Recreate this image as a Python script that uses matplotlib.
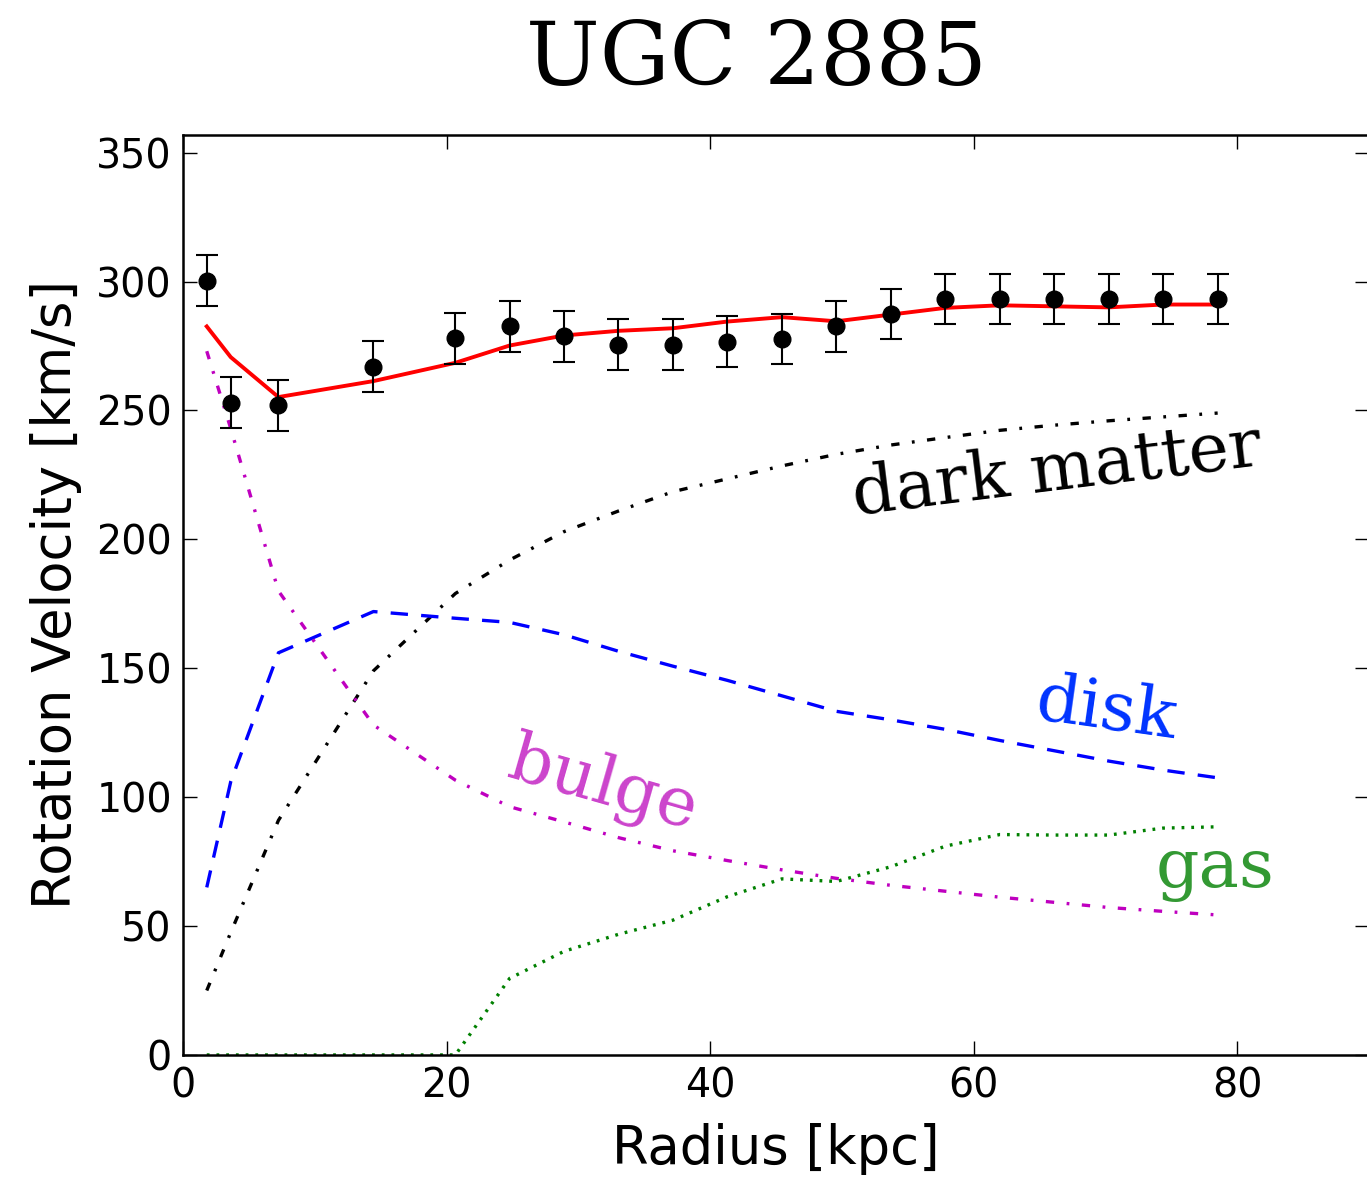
import matplotlib
matplotlib.use("Agg")
import matplotlib.pyplot as plt

# observed rotation curve of UGC 2885
radius = [1.8, 3.62, 7.24, 14.45, 20.67, 24.79, 28.92, 33.05, 37.19, 41.32,
          45.46, 49.59, 53.72, 57.86, 61.99, 66.13, 70.26, 74.39, 78.53]
v_obs = [300.4, 253.0, 252.0, 267.0, 278.0, 282.6, 278.7, 275.5, 275.5, 276.7,
         277.8, 282.6, 287.5, 293.3, 293.3, 293.3, 293.3, 293.3, 293.3]
v_err = [9.8, 9.8, 9.8, 9.8, 9.8, 9.8, 9.8, 9.8, 9.8, 9.8,
         9.8, 9.8, 9.8, 9.8, 9.8, 9.8, 9.8, 9.8, 9.8]

# model total and components
v_model = [282.6, 270.7, 255.2, 261.4, 268.5, 275.2, 279.1, 280.9, 281.9, 284.5,
           286.2, 284.6, 287.2, 289.8, 290.8, 290.4, 290.0, 291.1, 291.1]
v_dm = [25.0, 47.5, 91.0, 149.0, 179.0, 192.0, 203.0, 211.0, 218.5, 223.5,
        228.5, 233.0, 236.6, 239.5, 242.3, 244.3, 246.0, 247.5, 249.0]
v_disk = [65.0, 106.0, 156.0, 172.0, 169.4, 167.8, 163.0, 156.6, 150.8, 145.3,
          139.3, 133.3, 130.0, 126.3, 122.0, 118.0, 114.0, 110.5, 107.5]
v_bulge = [273.0, 243.0, 180.0, 128.0, 106.6, 96.3, 90.4, 84.3, 79.2, 75.4,
           71.8, 68.5, 65.8, 63.5, 61.2, 59.2, 57.2, 55.7, 54.3]
v_gas = [0.0, 0.0, 0.0, 0.0, 0.0, 29.7, 40.2, 46.8, 52.3, 61.4,
         68.3, 67.3, 73.0, 81.0, 85.5, 85.3, 85.3, 88.0, 88.5]

label_font = "DejaVu Serif"
plt.rcParams["lines.scale_dashes"] = False  # dash lengths in points

fig = plt.figure(figsize=(13.67, 11.77), dpi=100)
ax = fig.add_axes([0.1339, 0.1037, 0.8674, 0.7819])

lw = 2.4
ax.plot(radius, v_dm, color="k", lw=lw, dashes=(6, 9, 2, 9))
ax.plot(radius, v_disk, color="b", lw=lw, dashes=(12.5, 9.5))
ax.plot(radius, v_bulge, color="m", lw=lw, dashes=(6, 9, 2, 9))
ax.plot(radius, v_gas, color="g", lw=lw, dashes=(2, 5))
ax.plot(radius, v_model, color="r", lw=2.8)
ax.errorbar(radius, v_obs, yerr=v_err, fmt="o", color="k", ms=12,
            elinewidth=1.5, capsize=8, capthick=1.5)

ax.set_xlim(0, 90)
ax.set_ylim(0, 357)
ax.set_xticks([0, 20, 40, 60, 80])
ax.set_yticks([0, 50, 100, 150, 200, 250, 300, 350])

ax.tick_params(direction="in", top=True, right=True, length=10, width=1,
               labelsize=28.5, pad=8)
for sp in ax.spines.values():
    sp.set_linewidth(1.8)

ax.set_xlabel("Radius [kpc]", fontsize=38, labelpad=12)
ax.set_ylabel("Rotation Velocity [km/s]", fontsize=38, labelpad=10)

fig.text(757 / 1367, 1 - 85 / 1177, "UGC 2885", family=label_font,
         fontsize=63, ha="center", va="baseline")

ax.text(66.3, 226.4, "dark matter", family=label_font, fontsize=49,
        color="k", rotation=7, ha="center", va="center")
ax.text(70.06, 133.8, "disk", family=label_font, fontsize=49,
        color="#0033ff", rotation=-8, ha="center", va="center")
ax.text(31.9, 104.3, "bulge", family=label_font, fontsize=49,
        color="#cc44cc", rotation=-16, ha="center", va="center")
ax.text(78.3, 72.0, "gas", family=label_font, fontsize=49,
        color="#339933", rotation=0, ha="center", va="center")

fig.savefig("out.png", dpi=100)
